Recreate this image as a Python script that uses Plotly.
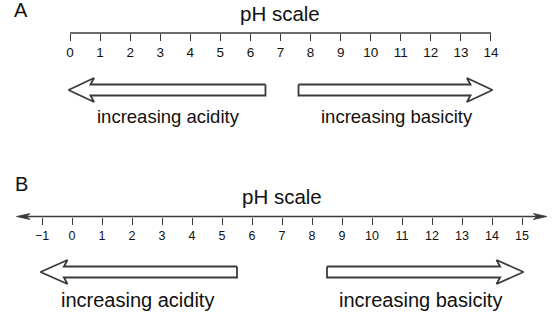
import plotly.graph_objects as go

# ---------------- data ----------------
ticks_a = list(range(0, 15))
tick_labels_a = [str(v) for v in ticks_a]
ticks_b = list(range(-1, 16))
tick_labels_b = [("\u2212" + str(-v)) if v < 0 else str(v) for v in ticks_b]

panel_labels = ["A", "B"]
titles = ["pH scale", "pH scale"]
arrow_texts = ["increasing acidity", "increasing basicity"]

# arrows: (tail, tip) in pH units
arrows_a = [(6.5, -0.05), (7.6, 14.05)]
arrows_b = [(5.5, -1.05), (8.5, 15.05)]
text_pos_a = [3.26, 10.87]
text_pos_b = [2.17, 11.62]
axis_ext_b = (-1.85, 15.83)

# ---------------- layout constants ----------------
W, H = 560, 316
FONT = "Liberation Sans, Arial, sans-serif"
LINE = "#3a3a3a"
TXT = "#111111"

AX_Y_A = 33
AX_Y_B = 216.5
ARROW_Y_A = 90
ARROW_Y_B = 272
TEXT_Y_A = 116
TEXT_Y_B = 300

range_a = [-70 / 30.07, 490 / 30.07]
range_b = [-72 / 30.0, 488 / 30.0]


def hollow_arrow(tail, tip, yc, hs, hh, hl, sweep):
    d = 1 if tip > tail else -1
    base = tip - d * hl
    joint = base + d * sweep
    xs = [tail, joint, base, tip, base, joint, tail, tail]
    ys = [yc - hs, yc - hs, yc - hh, yc, yc + hh, yc + hs, yc + hs, yc - hs]
    return xs, ys


fig = go.Figure()

for tail, tip in arrows_a:
    xs, ys = hollow_arrow(tail, tip, ARROW_Y_A, 5.5, 12, 0.85, 0.12)
    fig.add_trace(go.Scatter(x=xs, y=ys, mode="lines", fill="toself",
                             fillcolor="white", line=dict(color=LINE, width=1.8),
                             xaxis="x", yaxis="y", hoverinfo="skip", showlegend=False))
for tail, tip in arrows_b:
    xs, ys = hollow_arrow(tail, tip, ARROW_Y_B, 5.5, 12, 0.9, 0.12)
    fig.add_trace(go.Scatter(x=xs, y=ys, mode="lines", fill="toself",
                             fillcolor="white", line=dict(color=LINE, width=1.8),
                             xaxis="x2", yaxis="y", hoverinfo="skip", showlegend=False))

shapes = []
# axis A line
shapes.append(dict(type="line", xref="x", yref="y", x0=ticks_a[0], x1=ticks_a[-1],
                   y0=AX_Y_A, y1=AX_Y_A, line=dict(color=LINE, width=1.4)))
# axis B line with arrowheads
shapes.append(dict(type="line", xref="x2", yref="y", x0=axis_ext_b[0] + 0.3,
                   x1=axis_ext_b[1] - 0.3, y0=AX_Y_B, y1=AX_Y_B,
                   line=dict(color=LINE, width=1.4)))


def head_path(tip, yc, d, length=0.45, half=3.0, notch=0.12):
    b = tip - d * length
    n = b + d * notch
    return (f"M{tip},{yc} L{b},{yc - half} L{n},{yc} L{b},{yc + half} Z")


shapes.append(dict(type="path", xref="x2", yref="y",
                   path=head_path(axis_ext_b[0], AX_Y_B, -1),
                   fillcolor=LINE, line=dict(color=LINE, width=0.8)))
shapes.append(dict(type="path", xref="x2", yref="y",
                   path=head_path(axis_ext_b[1], AX_Y_B, 1),
                   fillcolor=LINE, line=dict(color=LINE, width=0.8)))

annotations = []


def ann(x, xref, y, text, size):
    annotations.append(dict(x=x, xref=xref, y=y, yref="y", text=text, showarrow=False,
                            xanchor="center", yanchor="middle",
                            font=dict(family=FONT, size=size, color=TXT)))


ann(21 / W, "paper", 10, panel_labels[0], 20)
ann(21 / W, "paper", 184, panel_labels[1], 20)
ann(7, "x", 13, titles[0], 20.5)
ann(7, "x2", 196, titles[1], 20.5)
for t, xp in zip(arrow_texts, text_pos_a):
    ann(xp, "x", TEXT_Y_A, t, 18.5)
for t, xp in zip(arrow_texts, text_pos_b):
    ann(xp, "x2", TEXT_Y_B, t, 20)

common = dict(showgrid=False, zeroline=False, showline=False, ticks="outside",
              ticklen=7, tickwidth=1.3, tickcolor=LINE, anchor="free", domain=[0, 1],
              fixedrange=True)

fig.update_layout(
    width=W, height=H,
    margin=dict(l=0, r=0, t=0, b=0),
    paper_bgcolor="white", plot_bgcolor="white",
    showlegend=False,
    xaxis=dict(range=range_a, tickvals=ticks_a, ticktext=tick_labels_a,
               position=1 - AX_Y_A / H,
               tickfont=dict(family=FONT, size=13.5, color=TXT), **common),
    xaxis2=dict(range=range_b, tickvals=ticks_b, ticktext=tick_labels_b,
                position=1 - AX_Y_B / H, overlaying="x",
                tickfont=dict(family=FONT, size=12.5, color=TXT), **common),
    yaxis=dict(range=[H, 0], domain=[0, 1], visible=False, fixedrange=True),
    shapes=shapes,
    annotations=annotations,
)

fig.write_html("out.html", config={"displayModeBar": False},
               post_script="document.body.style.margin='0';")
